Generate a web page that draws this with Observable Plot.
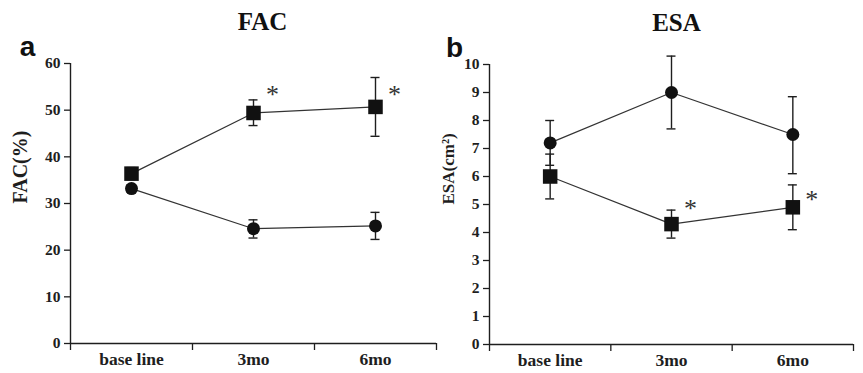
<!DOCTYPE html>
<html>
<head>
<meta charset="utf-8">
<script src="https://cdn.jsdelivr.net/npm/d3@7"></script>
<script src="https://cdn.jsdelivr.net/npm/@observablehq/plot@0.6"></script>
<style>
  html, body { margin: 0; padding: 0; background: #fff; }
  #wrap { position: relative; width: 863px; height: 373px; overflow: hidden; background: #fff; }
  #wrap svg { position: absolute; top: 0; background: transparent; }
</style>
</head>
<body>
<div id="wrap"></div>
<script>
// ---- data ----
const categories = ["base line", "3mo", "6mo"];

// FAC (%)
const facSquareMean = [36.4, 49.4, 50.7];
const facSquareLow  = [35.1, 46.7, 44.4];
const facSquareHigh = [37.7, 52.2, 57.0];
const facCircleMean = [33.2, 24.6, 25.2];
const facCircleLow  = [32.4, 22.6, 22.3];
const facCircleHigh = [34.0, 26.5, 28.1];
const facSig = [{cat: "3mo", y: 54.6}, {cat: "6mo", y: 54.6}];
const facTicks = [0, 10, 20, 30, 40, 50, 60];

// ESA (cm2)
const esaCircleMean = [7.2, 9.0, 7.5];
const esaCircleLow  = [6.4, 7.7, 6.1];
const esaCircleHigh = [8.0, 10.3, 8.85];
const esaSquareMean = [6.0, 4.3, 4.9];
const esaSquareLow  = [5.2, 3.8, 4.1];
const esaSquareHigh = [6.8, 4.8, 5.7];
const esaSig = [{cat: "3mo", y: 5.06}, {cat: "6mo", y: 5.37}];
const esaTicks = [0, 1, 2, 3, 4, 5, 6, 7, 8, 9, 10];

// ---- helpers ----
function rows(group, mean, low, high) {
  return categories.map((c, i) => ({group, cat: c, xi: i + 0.5, mean: mean[i], low: low[i], high: high[i]}));
}
const ink = "#1e1e1e";
const serif = "'Liberation Serif', 'Times New Roman', serif";
const capHalf = 0.037;

function panel({title, letter, ylabel, ymax, ticks, data, sig, width, left, mL, mR, mT, mB, titleDx, letterDx, ylabelDx, ylabelSize}) {
  const catRows = categories.map((c, i) => ({cat: c, xi: i + 0.5}));
  const sigRows = sig.map(s => ({xi: categories.indexOf(s.cat) + 0.5, y: s.y}));
  const sq = data.filter(d => d.group === "square");
  const ci = data.filter(d => d.group === "circle");
  const p = Plot.plot({
    width, height: 373,
    marginLeft: mL, marginRight: mR, marginTop: mT, marginBottom: mB,
    style: {background: "transparent", color: ink},
    x: {type: "linear", domain: [0, 3], axis: null, label: null},
    y: {domain: [0, ymax], axis: null, label: null},
    marks: [
      // axes
      Plot.axisY({ticks, label: null, tickSize: 6, tickFormat: () => "", stroke: ink, strokeWidth: 1.3}),
      Plot.text(ticks, {y: d => d, text: d => String(d), frameAnchor: "left", dx: -10, textAnchor: "end", fontFamily: serif, fontWeight: "bold", fontSize: 15.5, fill: ink}),
      Plot.axisX({ticks: [0, 1, 2, 3], label: null, tickSize: 7, tickFormat: () => "", stroke: ink, strokeWidth: 1.3}),
      Plot.ruleX([0], {y1: 0, y2: ymax, stroke: ink, strokeWidth: 1.4}),
      Plot.ruleY([0], {x1: 0, x2: 3, stroke: ink, strokeWidth: 1.4}),
      Plot.text(catRows, {x: "xi", text: "cat", frameAnchor: "bottom", dy: 21, fontFamily: serif, fontWeight: "bold", fontSize: 17.5, fill: ink}),
      // lines
      Plot.line(data, {x: "xi", y: "mean", z: "group", stroke: "#333", strokeWidth: 1.2}),
      // error bars
      Plot.ruleX(data, {x: "xi", y1: "low", y2: "high", stroke: ink, strokeWidth: 1.4}),
      Plot.ruleY(data, {y: "low", x1: d => d.xi - capHalf, x2: d => d.xi + capHalf, stroke: ink, strokeWidth: 1.4}),
      Plot.ruleY(data, {y: "high", x1: d => d.xi - capHalf, x2: d => d.xi + capHalf, stroke: ink, strokeWidth: 1.4}),
      // markers
      Plot.dot(ci, {x: "xi", y: "mean", r: 6.5, fill: "#111", stroke: "none"}),
      Plot.dot(sq, {x: "xi", y: "mean", r: 8.2, symbol: "square", fill: "#111", stroke: "none"}),
      // significance
      Plot.text(sigRows, {x: "xi", y: "y", text: () => "*", dx: 19, dy: 6, fontFamily: serif, fontWeight: "normal", fontSize: 26, fill: "#333"}),
      // titles & labels
      Plot.text([title], {frameAnchor: "top", dx: titleDx, dy: -34, lineAnchor: "bottom", text: d => d, fontFamily: serif, fontWeight: "bold", fontSize: 25, fill: "#111"}),
      Plot.text([letter], {frameAnchor: "top-left", dx: letterDx, dy: -8, lineAnchor: "bottom", textAnchor: "middle", text: d => d, fontFamily: "'Liberation Sans', Arial, sans-serif", fontWeight: "bold", fontSize: 28, fill: "#111"}),
      Plot.text([ylabel], {frameAnchor: "left", dx: ylabelDx, rotate: -90, text: d => d, fontFamily: serif, fontWeight: "bold", fontSize: ylabelSize, fill: ink})
    ]
  });
  p.style.left = left + "px";
  return p;
}

const wrap = document.getElementById("wrap");
const facData = [...rows("square", facSquareMean, facSquareLow, facSquareHigh), ...rows("circle", facCircleMean, facCircleLow, facCircleHigh)];
const esaData = [...rows("circle", esaCircleMean, esaCircleLow, esaCircleHigh), ...rows("square", esaSquareMean, esaSquareLow, esaSquareHigh)];

wrap.appendChild(panel({
  title: "FAC", letter: "a", ylabel: "FAC(%)", ymax: 60, ticks: facTicks, data: facData, sig: facSig,
  width: 440, left: 0, mL: 70, mR: 4, mT: 63, mB: 30, titleDx: 9, letterDx: -43, ylabelDx: -50, ylabelSize: 20
}));
wrap.appendChild(panel({
  title: "ESA", letter: "b", ylabel: "ESA(cm²)", ymax: 10, ticks: esaTicks, data: esaData, sig: esaSig,
  width: 433, left: 430, mL: 59, mR: 10, mT: 64, mB: 29, titleDx: 5, letterDx: -35, ylabelDx: -41, ylabelSize: 17
}));
</script>
</body>
</html>
